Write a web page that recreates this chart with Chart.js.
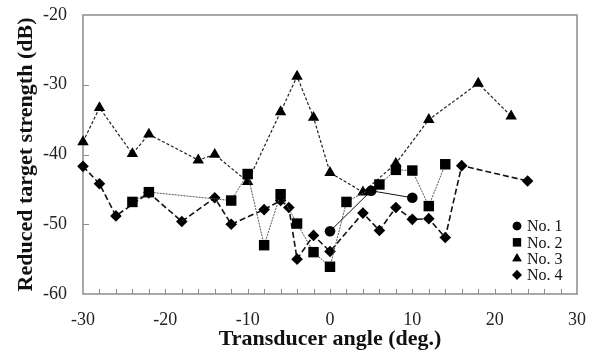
<!DOCTYPE html>
<html>
<head>
<meta charset="utf-8">
<script src="https://cdn.jsdelivr.net/npm/chart.js@4/dist/chart.umd.min.js"></script>
<style>
  html, body { margin: 0; padding: 0; background: #fff; }
  #wrap { width: 594px; height: 353px; position: relative; }
</style>
</head>
<body>
<div id="wrap"><canvas id="c" width="594" height="353"></canvas></div>
<script>
// ---- data ----
const seriesNames = ["No. 1", "No. 2", "No. 3", "No. 4"];

const angle1 = [0, 5, 10];
const ts1    = [-51.0, -45.2, -46.2];

const angle2 = [-24, -22, -12, -10, -8, -6, -4, -2, 0, 2, 6, 8, 10, 12, 14];
const ts2    = [-46.8, -45.4, -46.6, -42.8, -53.0, -45.7, -49.9, -54.0, -56.1, -46.8, -44.3, -42.2, -42.3, -47.4, -41.4];

const angle3 = [-30, -28, -24, -22, -16, -14, -10, -6, -4, -2, 0, 4, 8, 12, 18, 22];
const ts3    = [-38.2, -33.3, -39.9, -37.1, -40.8, -40.0, -43.9, -33.9, -28.8, -34.7, -42.6, -45.4, -41.3, -35.0, -29.8, -34.5];

const angle4 = [-30, -28, -26, -22, -18, -14, -12, -8, -6, -5, -4, -2, 0, 4, 6, 8, 10, 12, 14, 16, 24];
const ts4    = [-41.7, -44.2, -48.8, -45.5, -49.6, -46.2, -50.0, -47.9, -46.6, -47.6, -55.0, -51.6, -53.9, -48.4, -50.9, -47.6, -49.3, -49.2, -51.9, -41.6, -43.8];

const xMin = -30, xMax = 30, xMinorStep = 2, xLabelStep = 10;
const yMin = -60, yMax = -20, yStep = 10;

const xTitle = "Transducer angle (deg.)";
const yTitle = "Reduced target strength (dB)";

function pts(xs, ys) { return xs.map((x, i) => ({ x: x, y: ys[i] })); }

const serif = "'Liberation Serif', 'Times New Roman', serif";

// inward tick marks and plot frame
const frameTicks = {
  id: 'frameTicks',
  beforeDatasetsDraw(chart) {
    const { ctx, chartArea: a, scales: { x, y } } = chart;
    ctx.save();
    ctx.strokeStyle = '#8c8c8c';
    ctx.lineWidth = 1.5;
    ctx.strokeRect(a.left, a.top, a.right - a.left, a.bottom - a.top);
    ctx.lineWidth = 1;
    ctx.beginPath();
    for (let v = xMin + xMinorStep; v < xMax; v += xMinorStep) {
      const px = Math.round(x.getPixelForValue(v)) + 0.5;
      ctx.moveTo(px, a.bottom);
      ctx.lineTo(px, a.bottom - 5);
    }
    for (let v = yMin + yStep; v < yMax; v += yStep) {
      const py = Math.round(y.getPixelForValue(v)) + 0.5;
      ctx.moveTo(a.left, py);
      ctx.lineTo(a.left + 6, py);
    }
    ctx.stroke();
    ctx.restore();
  }
};

// legend inside the plot, lower right
const innerLegend = {
  id: 'innerLegend',
  afterDraw(chart) {
    const { ctx, chartArea: a } = chart;
    const ds = chart.data.datasets;
    const legendSizes = [4.3, 5.8, 5.4, 4.8];
    ctx.save();
    ctx.font = "16px " + serif;
    ctx.textBaseline = 'middle';
    const mx = a.right - 60, ty = a.bottom - 68, rowH = 16.3;
    ds.forEach((d, i) => {
      const yy = ty + i * rowH;
      Chart.helpers.drawPoint(ctx, {
        pointStyle: d.pointStyle, radius: legendSizes[i], borderWidth: 0, rotation: 0
      }, mx, yy);
      ctx.fillStyle = '#000';
      ctx.fill();
      ctx.fillStyle = '#111';
      ctx.fillText(d.label, mx + 10, yy + 1);
    });
    ctx.restore();
  }
};

const mk = (label, data, style, radius, dash, width, color) => ({
  label: label,
  data: data,
  showLine: true,
  clip: false,
  pointStyle: style,
  pointRadius: radius,
  pointHoverRadius: radius,
  pointBackgroundColor: '#000',
  pointBorderColor: '#000',
  pointBorderWidth: 0,
  borderColor: color,
  borderWidth: width,
  borderDash: dash,
  backgroundColor: '#000',
  tension: 0
});

new Chart(document.getElementById('c'), {
  type: 'scatter',
  data: {
    datasets: [
      mk(seriesNames[0], pts(angle1, ts1), 'circle', 5.3, [], 1, '#111'),
      mk(seriesNames[1], pts(angle2, ts2), 'rect', 7.4, [2, 1], 1, '#555'),
      mk(seriesNames[2], pts(angle3, ts3), 'triangle', 6.6, [3, 2], 1.2, '#222'),
      mk(seriesNames[3], pts(angle4, ts4), 'rectRot', 5.8, [6, 3], 1.6, '#111')
    ]
  },
  options: {
    responsive: false,
    animation: false,
    devicePixelRatio: 1,
    layout: { padding: { top: 15, right: 17, left: 0, bottom: 0 } },
    plugins: {
      legend: { display: false },
      tooltip: { enabled: false }
    },
    scales: {
      x: {
        type: 'linear',
        min: xMin, max: xMax,
        afterBuildTicks(scale) {
          const t = [];
          for (let v = xMin; v <= xMax; v += xLabelStep) t.push({ value: v });
          scale.ticks = t;
        },
        afterFit(scale) {
          scale.height = 59;
          scale.paddingLeft = 0; scale.paddingRight = 0;
        },
        grid: { display: false, drawTicks: false },
        border: { display: false },
        ticks: {
          padding: 15,
          color: '#222',
          font: { family: serif, size: 18 },
          maxRotation: 0,
          autoSkip: false
        },
        title: {
          display: true,
          text: xTitle,
          color: '#111',
          font: { family: serif, size: 22, weight: 'bold' },
          padding: { top: 0, bottom: 0 }
        }
      },
      y: {
        type: 'linear',
        min: yMin, max: yMax,
        ticks: {
          stepSize: yStep,
          padding: 16,
          color: '#222',
          font: { family: serif, size: 18 }
        },
        afterFit(scale) {
          scale.width = 83;
          scale.paddingTop = 0; scale.paddingBottom = 0;
        },
        grid: { display: false, drawTicks: false },
        border: { display: false },
        title: {
          display: true,
          text: yTitle,
          color: '#111',
          font: { family: serif, size: 22, weight: 'bold' },
          padding: { top: 13, bottom: 0 }
        }
      }
    }
  },
  plugins: [frameTicks, innerLegend]
});
</script>
</body>
</html>
